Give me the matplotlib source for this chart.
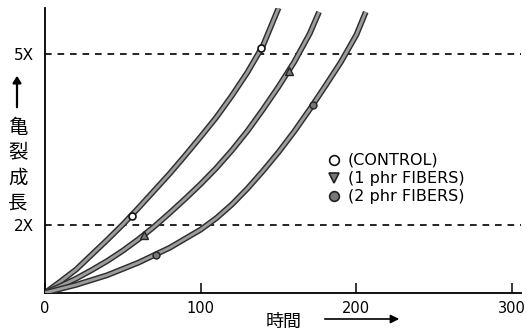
import matplotlib
matplotlib.use("Agg")
import matplotlib.pyplot as plt
import matplotlib.patheffects as pe

# crack growth ratio vs time
control_t = [0, 10, 20, 30, 40, 50, 60, 70, 80, 90, 100, 110, 120, 130, 140, 150]
control_r = [0.81, 1.01, 1.22, 1.48, 1.74, 2.01, 2.30, 2.60, 2.90, 3.22, 3.55, 3.89, 4.27, 4.68, 5.15, 5.81]

fiber1_t = [0, 10, 20, 30, 40, 50, 60, 70, 80, 90, 100, 110, 120, 130, 140, 150, 160, 170, 176]
fiber1_r = [0.81, 0.93, 1.06, 1.21, 1.37, 1.55, 1.75, 1.97, 2.21, 2.46, 2.72, 3.00, 3.31, 3.65, 4.03, 4.43, 4.86, 5.36, 5.74]

fiber2_t = [0, 20, 40, 60, 80, 100, 110, 120, 130, 140, 150, 160, 170, 180, 190, 200, 206]
fiber2_r = [0.81, 0.95, 1.12, 1.34, 1.60, 1.92, 2.12, 2.36, 2.64, 2.95, 3.28, 3.64, 4.03, 4.44, 4.86, 5.34, 5.74]

# symbols sitting on the curves
control_mt = [55.8, 139]
control_mr = [2.15, 5.10]
fiber1_mt = [63.5, 156.4]
fiber1_mr = [1.83, 4.70]
fiber2_mt = [71, 172]
fiber2_mr = [1.48, 4.11]

ref_levels = [2, 5]
ref_labels = ["2X", "5X"]
x_ticks = [0, 100, 200, 300]
legend_labels = ["(CONTROL)", "(1 phr FIBERS)", "(2 phr FIBERS)"]
ylabel_chars = ["亀", "裂", "成", "長"]

W, H = 526, 335
plt.rcParams['font.family'] = ['DejaVu Sans', 'Noto Sans CJK JP']


def fpos(x, y):
    return x / W, 1 - y / H


def main():
    fig = plt.figure(figsize=(W / 100, H / 100), dpi=100)
    ax = fig.add_axes([45 / W, 1 - 293 / H, 476 / W, 285 / H])
    ax.set_xlim(0, 305.7)
    ax.set_ylim(0.807, 5.81)

    curve_fx = [pe.Stroke(linewidth=4.2, foreground="#2e2e2e"), pe.Normal()]
    for t, r in [(control_t, control_r), (fiber1_t, fiber1_r), (fiber2_t, fiber2_r)]:
        ax.plot(t, r, color="#9c9c9c", lw=2.1, solid_capstyle="butt",
                path_effects=curve_fx, zorder=3)

    ax.plot(control_mt, control_mr, "o", ms=5, mfc="white", mec="#111", mew=1.2,
            ls="none", zorder=4)
    ax.plot(fiber1_mt, fiber1_mr, "^", ms=5.5, mfc="#777", mec="#222", mew=1.0,
            ls="none", zorder=4)
    ax.plot(fiber2_mt, fiber2_mr, "o", ms=5, mfc="#777", mec="#222", mew=1.0,
            ls="none", zorder=4)

    for lv in ref_levels:
        ax.axhline(lv, color="black", lw=1.2, ls=(0, (4, 3.5)), zorder=2)

    for s in ["top", "right"]:
        ax.spines[s].set_visible(False)
    for s in ["left", "bottom"]:
        ax.spines[s].set_linewidth(1.3)

    ax.set_xticks(x_ticks)
    ax.set_xticklabels([str(v) for v in x_ticks], fontsize=10.5)
    ax.tick_params(axis="x", direction="in", length=7, width=1.1, pad=6)
    ax.set_yticks(ref_levels)
    ax.set_yticklabels(ref_labels, fontsize=11)
    ax.tick_params(axis="y", length=0, pad=8)

    # legend drawn by hand, as in the scan
    leg_y = [160, 178, 196]
    leg_marks = [("o", "white", "#111"), ("v", "#777", "#222"), ("o", "#777", "#222")]
    for y, lab, (m, fc, ec) in zip(leg_y, legend_labels, leg_marks):
        mx, my = fpos(334, y)
        fig.lines.append(plt.Line2D([mx], [my], marker=m, ms=7, mfc=fc, mec=ec,
                                    mew=1.2, transform=fig.transFigure))
        tx, ty = fpos(348, y)
        fig.text(tx, ty, lab, fontsize=11.5, ha="left", va="center")

    # y axis caption: arrow and stacked characters
    fig.patches.append(matplotlib.patches.FancyArrowPatch(
        fpos(17, 110), fpos(17, 73), transform=fig.transFigure,
        arrowstyle="-|>,head_length=4,head_width=2.5", lw=1.6, color="black"))
    for i, ch in enumerate(ylabel_chars):
        x, y = fpos(18, 128 + i * 25)
        fig.text(x, y, ch, fontsize=14, ha="center", va="center",
                 family="Noto Sans CJK JP")

    # x axis caption
    x, y = fpos(284, 322)
    fig.text(x, y, "時間", fontsize=13, ha="center", va="center",
             family="Noto Sans CJK JP")
    fig.patches.append(matplotlib.patches.FancyArrowPatch(
        fpos(322, 319), fpos(402, 319), transform=fig.transFigure,
        arrowstyle="-|>,head_length=5,head_width=2.5", lw=1.2, color="black"))

    plt.savefig("out.png", dpi=100)


if __name__ == "__main__":
    main()
